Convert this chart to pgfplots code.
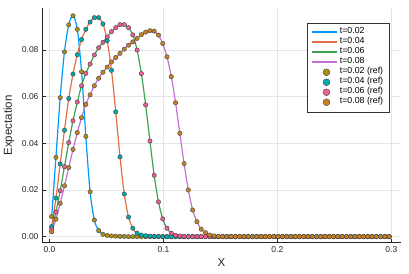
\documentclass[border=0pt]{standalone}
\usepackage{fontspec}
\setmainfont{Liberation Sans}
\usepackage{pgfplots}
\usepackage{pgfplotstable}
\pgfplotsset{compat=1.18}
\definecolor{l1}{HTML}{009AFA}
\definecolor{l2}{HTML}{E36F47}
\definecolor{l3}{HTML}{3EA44E}
\definecolor{l4}{HTML}{C371D2}
\definecolor{m1}{HTML}{AC8E18}
\definecolor{m2}{HTML}{00AAAE}
\definecolor{m3}{HTML}{ED5E93}
\definecolor{m4}{HTML}{C68225}
\pgfplotstableread{
x a b c d
0.001875 0.0086 0.0043 0.0032 0.0021
0.005625 0.0340 0.0165 0.0106 0.0075
0.009375 0.0596 0.0312 0.0197 0.0143
0.013125 0.0792 0.0456 0.0300 0.0218
0.016875 0.0908 0.0592 0.0403 0.0296
0.020625 0.0947 0.0697 0.0497 0.0374
0.024375 0.0889 0.0780 0.0577 0.0446
0.028125 0.0707 0.0845 0.0647 0.0510
0.031875 0.0430 0.0889 0.0700 0.0567
0.035625 0.0192 0.0920 0.0740 0.0608
0.039375 0.0071 0.0939 0.0779 0.0647
0.043125 0.0026 0.0939 0.0810 0.0679
0.046875 0.0010 0.0912 0.0833 0.0705
0.050625 0.0005 0.0840 0.0856 0.0727
0.054375 0.0003 0.0713 0.0879 0.0749
0.058125 0.0002 0.0535 0.0896 0.0768
0.061875 0.0001 0.0342 0.0909 0.0786
0.065625 0.0001 0.0183 0.0909 0.0804
0.069375 0 0.0084 0.0896 0.0821
0.073125 0 0.0036 0.0865 0.0835
0.076875 0 0.0015 0.0800 0.0850
0.080625 0 0.0007 0.0699 0.0866
0.084375 0 0.0004 0.0565 0.0877
0.088125 0 0.0002 0.0410 0.0883
0.091875 0 0.0001 0.0263 0.0881
0.095625 0 0.0001 0.0149 0.0864
0.099375 0 0 0.0076 0.0828
0.103125 0 0 0.0036 0.0771
0.106875 0 0 0.0015 0.0686
0.110625 0 0 0.0006 0.0574
0.114375 0 0 0.0003 0.0443
0.118125 0 0 0.0001 0.0313
0.121875 0 0 0 0.0200
0.125625 0 0 0 0.0114
0.129375 0 0 0 0.0064
0.133125 0 0 0 0.0032
0.136875 0 0 0 0.0017
0.140625 0 0 0 0.0007
0.144375 0 0 0 0.0003
0.148125 0 0 0 0.0001
0.151875 0 0 0 0
0.155625 0 0 0 0
0.159375 0 0 0 0
0.163125 0 0 0 0
0.166875 0 0 0 0
0.170625 0 0 0 0
0.174375 0 0 0 0
0.178125 0 0 0 0
0.181875 0 0 0 0
0.185625 0 0 0 0
0.189375 0 0 0 0
0.193125 0 0 0 0
0.196875 0 0 0 0
0.200625 0 0 0 0
0.204375 0 0 0 0
0.208125 0 0 0 0
0.211875 0 0 0 0
0.215625 0 0 0 0
0.219375 0 0 0 0
0.223125 0 0 0 0
0.226875 0 0 0 0
0.230625 0 0 0 0
0.234375 0 0 0 0
0.238125 0 0 0 0
0.241875 0 0 0 0
0.245625 0 0 0 0
0.249375 0 0 0 0
0.253125 0 0 0 0
0.256875 0 0 0 0
0.260625 0 0 0 0
0.264375 0 0 0 0
0.268125 0 0 0 0
0.271875 0 0 0 0
0.275625 0 0 0 0
0.279375 0 0 0 0
0.283125 0 0 0 0
0.286875 0 0 0 0
0.290625 0 0 0 0
0.294375 0 0 0 0
0.298125 0 0 0 0
}\data
\pgfplotsset{
  lineimg/.style={legend image code/.code={\draw[##1, line width=1.6pt] (0pt,0pt) -- (25pt,0pt);}},
  markimg/.style={legend image code/.code={\draw[##1, mark size=3.4pt] plot coordinates {(14pt,0pt)};}},
  refmark/.style={only marks, mark=*, mark size=2.2pt, mark options={draw=black!75, line width=0.4pt, fill=#1}},
}
\begin{document}
\begin{tikzpicture}
\useasboundingbox (-42pt,-30.3pt) rectangle (367pt,242.7pt);
\begin{axis}[
  scale only axis, width=359pt, height=234.4pt,
  at={(0,0)}, anchor=south west,
  xmin=-0.0066, xmax=0.3085, ymin=-0.0026, ymax=0.0979,
  axis lines=left, axis line style={-, draw=black!85, line width=0.7pt},
  tick align=inside, major tick length=3.5pt, tick pos=left,
  tick style={black!85, line width=0.6pt},
  grid=major, grid style={black!10, line width=0.5pt},
  xtick={0,0.1,0.2,0.3}, ytick={0,0.02,0.04,0.06,0.08},
  scaled ticks=false,
  /pgf/number format/assume math mode=true,
  xticklabel style={/pgf/number format/.cd, fixed, fixed zerofill, precision=1},
  yticklabel style={/pgf/number format/.cd, fixed, fixed zerofill, precision=2},
  tick label style={font=\fontsize{8.5}{10}\selectfont, text=black!85},
  label style={font=\fontsize{11.5}{13}\selectfont, text=black!85},
  xlabel={X}, ylabel={Expectation},
  xlabel style={at={(axis description cs:0.5,-0.0866)}, anchor=center},
  ylabel style={at={(axis description cs:-0.092,0.5)}, anchor=center},
  legend cell align=left,
  legend style={at={(axis description cs:0.9666,0.9394)}, anchor=north east,
    draw=black!80, line width=0.5pt, fill=white,
    font=\fontsize{8.8}{10}\selectfont, inner xsep=4pt, inner ysep=4.5pt,
    nodes={inner ysep=0pt, inner xsep=1.6pt, text height=6.7pt, text depth=3.3pt}},
]
\addplot[l1, line width=1.2pt, smooth, no markers, lineimg] table[x=x,y=a]{\data};
\addlegendentry{t=0.02}
\addplot[l2, line width=1.2pt, smooth, no markers, lineimg] table[x=x,y=b]{\data};
\addlegendentry{t=0.04}
\addplot[l3, line width=1.2pt, smooth, no markers, lineimg] table[x=x,y=c]{\data};
\addlegendentry{t=0.06}
\addplot[l4, line width=1.2pt, smooth, no markers, lineimg] table[x=x,y=d]{\data};
\addlegendentry{t=0.08}
\addplot[refmark=m1, markimg] table[x=x,y=a]{\data};
\addlegendentry{t=0.02 (ref)}
\addplot[refmark=m2, markimg] table[x=x,y=b]{\data};
\addlegendentry{t=0.04 (ref)}
\addplot[refmark=m3, markimg] table[x=x,y=c]{\data};
\addlegendentry{t=0.06 (ref)}
\addplot[refmark=m4, markimg] table[x=x,y=d]{\data};
\addlegendentry{t=0.08 (ref)}
\end{axis}
\end{tikzpicture}
\end{document}
